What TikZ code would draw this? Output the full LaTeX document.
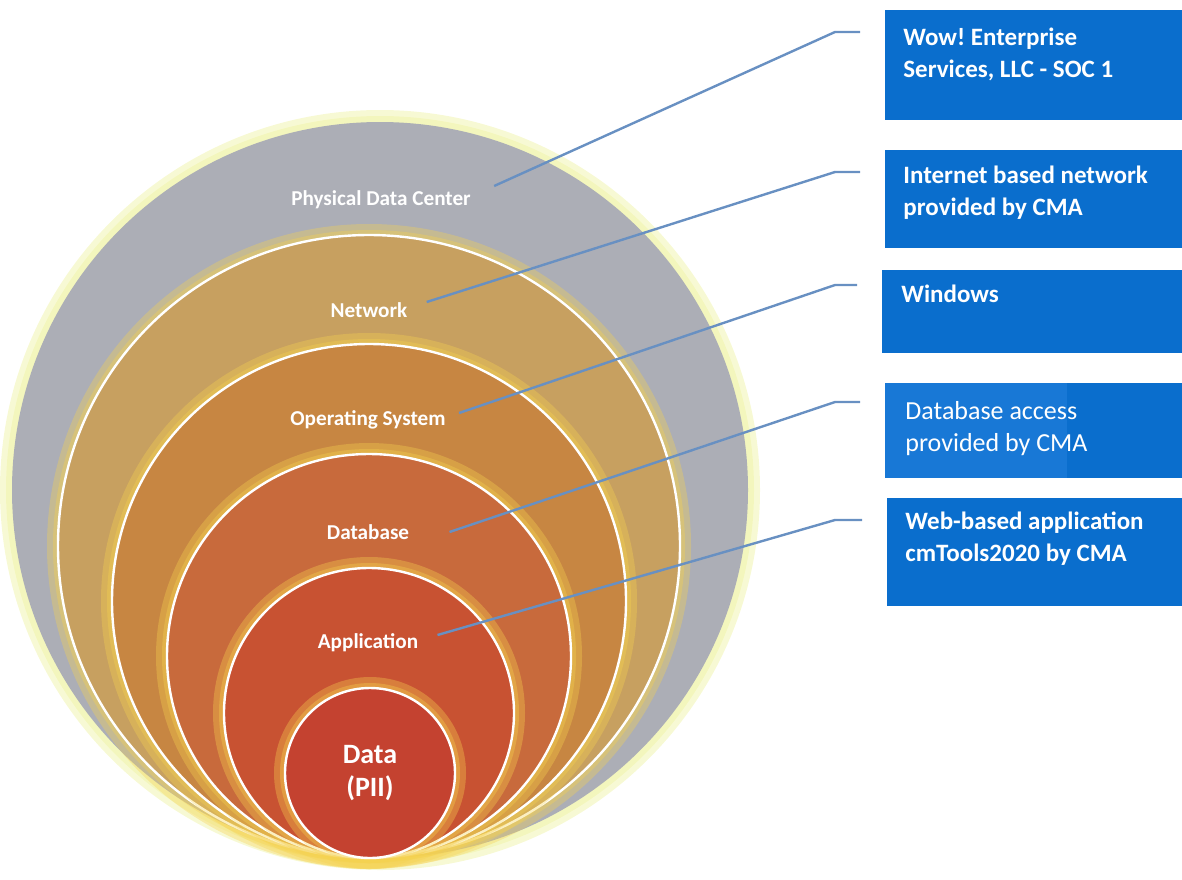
\documentclass[tikz,border=0pt]{standalone}
\usepackage{fontspec}
\setmainfont{Carlito}
\usetikzlibrary{positioning}
\frenchspacing

\definecolor{shellgray}{RGB}{172,174,182}
\definecolor{nettan}{RGB}{199,160,96}
\definecolor{osorange}{RGB}{199,134,66}
\definecolor{dbrust}{RGB}{200,106,60}
\definecolor{appred}{RGB}{200,82,50}
\definecolor{datared}{RGB}{196,66,48}
\definecolor{haze}{RGB}{246,210,80}
\definecolor{palehaze}{RGB}{238,242,160}
\definecolor{boxblue}{RGB}{10,110,205}
\definecolor{patchblue}{RGB}{24,120,214}
\definecolor{linkblue}{RGB}{104,144,194}

\begin{document}
\begin{tikzpicture}[x=0.5pt, y=-0.5pt,
    halo/.style={fill=palehaze, opacity=0.45},
    glow/.style={fill=haze, opacity=0.35},
    ring/.style={draw=white, line width=1.2pt},
    layer/.style={text=white, font=\bfseries\fontsize{10.6}{12}\selectfont, inner sep=0pt},
    box/.style={rectangle, fill=boxblue, minimum width=148.5pt, inner sep=0pt, anchor=north west},
    boxtext/.style={text=white, font=\bfseries\fontsize{12.5}{16}\selectfont, align=left, anchor=north west, inner sep=0pt},
    link/.style={draw=linkblue, line width=1.2pt, shorten >=12.5pt}
]
\useasboundingbox (0,0) rectangle (1182,879);

% Outer shell
\fill[halo] (380,490) circle (380);
\fill[halo] (380,490) circle (374);
\fill[shellgray] (380,490) circle (368);

% Nested layers, outside in
\fill[glow] (369,546) circle (322);
\fill[glow] (369,546) circle (316);
\filldraw[ring, fill=nettan] (369,546) circle (311);

\fill[glow] (369,601) circle (268);
\fill[glow] (369,601) circle (262);
\filldraw[ring, fill=osorange] (369,601) circle (257);

\fill[glow] (369,656) circle (213);
\fill[glow] (369,656) circle (207);
\filldraw[ring, fill=dbrust] (369,656) circle (202);

\fill[glow] (369,713) circle (156);
\fill[glow] (369,713) circle (150);
\filldraw[ring, fill=appred] (369,713) circle (145);

\fill[glow] (370,773) circle (96);
\fill[glow] (370,773) circle (90);
\filldraw[ring, fill=datared] (370,773) circle (85);

% Layer labels
\node[layer] (pdc) at (381,200) {Physical Data Center};
\node[layer] (net) at (369,310) {Network};
\node[layer] (os) at (368,420) {Operating System};
\node[layer] (db) at (368,532) {Database};
\node[layer] (app) at (368,643) {Application};
\node[layer, align=center, font=\bfseries\fontsize{14}{16.5}\selectfont] (pii) at (370,773) {Data\\(PII)};

% Provider boxes
\node[box, minimum height=55pt] (soc) at (885,10) {};
\node[box, minimum height=49pt] (inet) at (885,150) {};
\node[box, minimum height=41.5pt, minimum width=150pt] (win) at (882,270) {};
\node[box, minimum height=47.5pt] (dbacc) at (885,383) {};
\node[box, minimum height=47.5pt, minimum width=91pt, fill=patchblue] (dbpatch) at (885,383) {};
\node[box, minimum height=54pt, minimum width=147.5pt] (web) at (887,498) {};

\node[boxtext] (soc-t) at (903,28) {Wow! Enterprise\\Services, LLC - SOC 1};
\node[boxtext] (inet-t) at (903,166) {Internet based network\\provided by CMA};
\node[boxtext] (win-t) at (901,285) {Windows};
\node[boxtext, font=\fontsize{13}{16}\selectfont] (dbacc-t) at (905,401) {Database access\\provided by CMA};
\node[boxtext] (web-t) at (905,512) {Web-based application\\cmTools2020 by CMA};

% Leader lines
\draw[link] ([shift={(11.5pt,7pt)}]pdc.east) -- ([shift={(-25pt,-11pt)}]soc.north west) -- ([yshift=-11pt]soc.north west);
\draw[link] ([shift={(9.5pt,4pt)}]net.east) -- ([shift={(-25pt,-11pt)}]inet.north west) -- ([yshift=-11pt]inet.north west);
\draw[link] ([shift={(6.5pt,3.5pt)}]os.east) -- ([shift={(-23.5pt,-7.5pt)}]win.north west) -- ([yshift=-7.5pt]win.north west);
\draw[link] ([shift={(20pt,0pt)}]db.east) -- ([shift={(-25pt,-9.5pt)}]dbacc.north west) -- ([yshift=-9.5pt]dbacc.north west);
\draw[link] ([shift={(9.5pt,4pt)}]app.east) -- ([shift={(-26pt,-11pt)}]web.north west) -- ([yshift=-11pt]web.north west);

\end{tikzpicture}
\end{document}
